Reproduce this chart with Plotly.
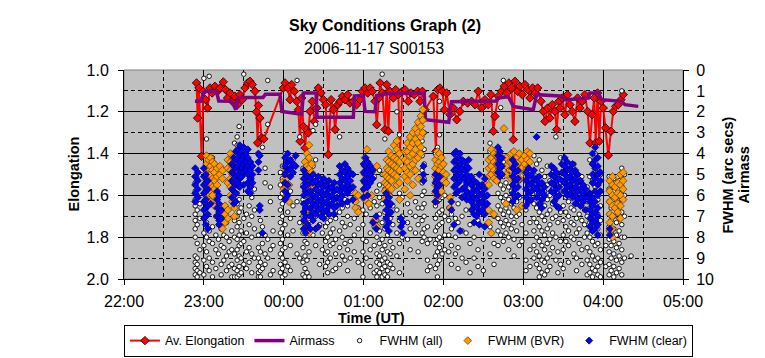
import plotly.graph_objects as go

# ---------------- data (time = minutes after 22:00 UT) ----------------
hour_vals = [0, 60, 120, 180, 240, 300, 360, 420]
hour_labels = ["22:00", "23:00", "00:00", "01:00", "02:00", "03:00", "04:00", "05:00"]

# Av. Elongation (left axis)
elong_t = [54.5, 55.3, 56.3, 58.3, 59.6, 61.3, 62.8, 64.6, 66.3, 68.3, 70.3, 72.1, 74.6, 76.3, 77.8,
           79.6, 81.3, 83.3, 85.4, 87.1, 88.9, 90.9, 92.9, 94.6, 96.4, 98.4, 99.5, 100.4, 101.0, 102.1,
           103.4, 105.1, 119.7, 121.0, 123.0, 124.8, 126.0, 128.0, 129.8, 131.0, 132.3, 133.5, 134.8,
           136.0, 137.3, 138.5, 139.8, 141.5, 143.0, 144.8, 146.0, 148.0, 149.8, 151.5, 153.5, 155.6,
           157.3, 158.6, 160.6, 162.3, 164.1, 166.1, 168.1, 169.8, 172.3, 174.8, 177.3, 179.1, 181.1,
           183.1, 184.9, 186.6, 188.6, 189.9, 191.6, 192.4, 194.1, 196.1, 197.4, 198.6, 199.9, 202.4,
           204.1, 206.1, 207.4, 209.1, 211.1, 213.6, 215.6, 218.1, 220.6, 222.4, 224.2, 226.2, 232.4,
           234.4, 235.7, 237.4, 239.2, 240.7, 242.4, 244.9, 247.4, 250.0, 252.4, 255.0, 258.2, 261.2,
           263.7, 266.2, 268.7, 271.2, 273.7, 275.7, 277.5, 278.7, 281.2, 283.7, 285.7, 287.5, 289.2,
           291.2, 292.5, 293.8, 295.8, 297.5, 299.3, 301.3, 303.3, 305.0, 307.0, 308.8, 310.8, 313.3,
           315.0, 316.3, 318.3, 320.0, 321.8, 323.8, 325.1, 326.8, 327.6, 329.3, 331.3, 333.3, 335.1,
           336.8, 338.8, 340.8, 342.6, 344.3, 346.3, 348.3, 350.1, 351.8, 353.3, 354.4, 355.8, 357.1,
           358.4, 360.1, 361.9, 363.9, 365.9, 367.6, 369.4, 371.4, 373.4, 375.1]
elong_v = [1.062, 1.23, 1.086, 1.413, 1.102, 1.142, 1.182, 1.086, 1.11, 1.078, 1.102, 1.086, 1.057, 1.094, 1.134,
           1.11, 1.15, 1.126, 1.166, 1.118, 1.142, 1.086, 1.062, 1.054, 1.07, 1.102, 1.20, 1.349, 1.17, 1.23,
           1.325, 1.33, 1.086, 1.062, 1.086, 1.142, 1.07, 1.102, 1.15, 1.19, 1.341, 1.134, 1.27,
           1.373, 1.285, 1.301, 1.198, 1.15, 1.246, 1.182, 1.086, 1.11, 1.142, 1.166, 1.405, 1.142,
           1.19, 1.285, 1.166, 1.15, 1.126, 1.142, 1.118, 1.158, 1.15, 1.166, 1.142, 1.102, 1.086,
           1.11, 1.086, 1.102, 1.15, 1.262, 1.134, 1.062, 1.11, 1.285, 1.07, 1.293, 1.102, 1.134,
           1.094, 1.118, 1.397, 1.102, 1.094, 1.15, 1.11, 1.118, 1.102, 1.15, 1.102, 1.19, 1.126,
           1.389, 1.094, 1.086, 1.102, 1.19, 1.11, 1.214, 1.182, 1.238, 1.198, 1.15, 1.158, 1.15,
           1.166, 1.102, 1.182, 1.142, 1.166, 1.118, 1.293, 1.222, 1.126, 1.102, 1.078, 1.11, 1.062,
           1.086, 1.333, 1.054, 1.102, 1.078, 1.118, 1.07, 1.094, 1.134, 1.086, 1.11, 1.086, 1.15,
           1.198, 1.246, 1.182, 1.23, 1.166, 1.198, 1.285, 1.15, 1.182, 1.134, 1.214, 1.118, 1.166,
           1.198, 1.246, 1.134, 1.182, 1.15, 1.118, 1.198, 1.349, 1.214, 1.134, 1.349, 1.11, 1.341,
           1.15, 1.182, 1.277, 1.408, 1.293, 1.198, 1.174, 1.166, 1.142, 1.118]

# Airmass (right axis)
air_t = [53.3, 57.8, 59.8, 61.5, 69.6, 71.2, 81.0, 84.0, 86.2, 104.5, 106.2, 117.2, 118.6, 121.0, 133.5,
         134.8, 144.3, 145.0, 172.3, 173.1, 179.8, 181.1, 188.6, 189.9, 197.0, 225.5, 226.5, 244.0,
         246.0, 279.5, 281.0, 288.8, 292.5, 307.5, 310.0, 327.6, 331.3, 342.6, 348.8, 350.0, 356.4,
         358.9, 373.9, 376.4, 386.4]
air_v = [1.50, 1.50, 1.08, 1.02, 1.04, 1.48, 1.50, 1.90, 1.32, 1.32, 1.16, 1.16, 1.98, 2.00, 2.12,
         1.10, 1.10, 2.26, 2.26, 1.24, 1.22, 1.98, 2.00, 1.22, 1.14, 1.10, 2.38, 2.50,
         1.52, 1.48, 1.34, 1.28, 1.74, 1.90, 1.18, 1.24, 1.42, 1.38, 1.34, 1.10, 1.10,
         1.42, 1.50, 1.66, 1.74]

# FWHM (all): (time, [FWHM values at that time])
fwhm_all = [
    (53.5, [5.1, 5.4, 5.8, 6.2, 6.5, 6.9, 7.2, 7.6, 8.0, 8.9, 9.2, 9.5, 9.8]),
    (55.0, [5.2, 6.0, 6.7, 7.4, 8.3, 9.0, 9.3, 9.6, 9.9]),
    (57.0, [6.4, 7.1, 8.6, 9.7]),
    (60.0, [0.4, 7.8, 8.4, 9.1, 9.8]),
    (62.0, [3.3, 6.6, 7.3, 8.0, 8.7, 9.4]),
    (64.0, [0.3, 7.7, 8.2, 9.0, 9.6]),
    (66.5, [4.2, 7.5, 8.3, 9.2, 9.9]),
    (69.0, [7.0, 7.9, 8.6, 9.5]),
    (71.0, [6.8, 7.4, 8.1, 8.8]),
    (73.0, [7.6, 8.4, 9.3, 9.8]),
    (75.0, [7.9, 8.5, 9.1]),
    (77.0, [7.3, 8.0, 8.9, 9.6]),
    (79.0, [8.2, 8.7, 9.4]),
    (81.0, [7.7, 8.6, 9.3, 9.9]),
    (83.0, [3.5, 4.6, 6.0, 7.2, 8.0, 8.8, 9.5, 9.9]),
    (85.0, [3.2, 3.6, 4.1, 4.7, 5.3, 5.9, 6.4, 7.0, 7.5, 8.1, 8.6, 9.1, 9.6, 9.9]),
    (86.5, [2.7, 3.9, 4.4, 5.0, 5.6, 6.2, 6.8, 7.3, 7.9, 8.4, 8.9, 9.4, 9.8]),
    (88.0, [4.8, 5.5, 6.6, 7.7, 8.3, 9.0, 9.7]),
    (90.0, [0.2, 7.1, 8.2, 9.3]),
    (92.0, [6.9, 7.8, 8.7, 9.5]),
    (94.0, [6.5, 7.4, 8.5, 9.2]),
    (96.0, [5.2, 6.1, 7.0, 8.0, 8.8, 9.7]),
    (98.0, [5.7, 6.7, 7.6, 9.0]),
    (101.0, [7.9, 8.5, 9.0, 9.4, 9.7, 9.9]),
    (102.5, [7.2, 8.7, 9.2, 9.6, 9.9]),
    (104.0, [3.7, 7.5, 8.3, 9.5]),
    (106.0, [4.7, 5.4, 7.9, 8.8, 9.3]),
    (108.0, [0.5, 2.6, 8.1, 9.0]),
    (110.0, [5.6, 6.3, 8.6, 9.8]),
    (112.0, [7.7, 8.4, 9.6]),
    (117.5, [4.9, 5.5, 6.1, 6.7, 7.3, 7.8, 8.3, 8.8, 9.3, 9.7]),
    (119.0, [4.6, 5.2, 5.9, 6.4, 7.0, 7.6, 8.1, 8.6, 9.0, 9.5, 9.9]),
    (121.0, [4.0, 5.6, 6.2, 7.4, 8.5, 9.2, 9.8]),
    (123.0, [4.4, 6.8, 7.9, 9.4]),
    (125.0, [5.8, 7.1, 8.4, 9.6]),
    (127.0, [4.3, 6.5, 7.7]),
    (130.0, [0.5, 6.3, 8.8]),
    (132.0, [3.2, 7.3, 9.0]),
    (134.5, [4.7, 5.5, 6.2, 7.0, 7.8, 8.5, 9.2, 9.8]),
    (136.0, [4.9, 5.8, 6.6, 7.4, 8.2, 8.9, 9.5, 9.9]),
    (137.5, [5.2, 6.0, 6.8, 7.6, 8.3, 9.1, 9.7]),
    (139.0, [5.4, 6.4, 7.2, 8.7, 9.9]),
    (142.0, [2.9, 4.6, 6.1, 7.9]),
    (144.0, [2.6, 4.3, 5.7, 7.0, 8.4]),
    (147.0, [6.3, 7.4, 9.3]),
    (149.0, [7.8, 8.6]),
    (151.5, [5.5, 6.2, 6.9, 7.5, 8.2, 8.8, 9.4]),
    (153.0, [5.3, 6.0, 6.7, 7.3, 8.0, 8.7, 9.2, 9.7]),
    (155.0, [5.8, 6.5, 7.2, 7.8, 8.4, 9.0]),
    (157.0, [6.1, 6.9, 7.6, 8.3, 9.6]),
    (159.0, [6.4, 7.1, 8.1, 8.8, 9.5]),
    (162.0, [3.2, 6.0, 6.8, 7.7, 8.5, 9.3]),
    (164.0, [6.6, 7.3, 8.0, 8.9]),
    (166.0, [6.2, 7.5, 8.3, 9.1]),
    (168.0, [6.5, 7.0, 8.6, 9.6]),
    (170.0, [7.4, 8.2, 9.0]),
    (173.0, [6.3, 7.1, 7.9, 8.7]),
    (176.0, [6.6, 7.6, 9.2]),
    (179.5, [6.7, 7.4, 8.1, 8.7, 9.3, 9.9]),
    (182.0, [5.6, 6.9, 8.2, 9.0]),
    (185.0, [5.3, 6.6, 7.8, 8.6, 9.4]),
    (188.0, [5.1, 6.3, 7.5, 8.4, 9.7]),
    (190.0, [4.6, 5.8, 6.5, 7.2, 8.0, 8.8, 9.2, 9.6, 9.9]),
    (192.0, [4.8, 5.5, 6.1, 6.9, 7.7, 8.3, 8.9, 9.3, 9.7]),
    (194.0, [0.2, 5.0, 6.4, 7.3, 8.1, 8.6, 9.1, 9.5, 9.9]),
    (196.0, [3.3, 5.7, 6.8, 7.6, 8.4, 9.0, 9.4, 9.8]),
    (198.0, [4.9, 6.2, 7.0, 7.9, 8.7, 9.2, 9.6, 9.9]),
    (200.0, [6.0, 7.1, 8.2, 8.8, 9.3]),
    (202.0, [4.7, 6.5, 7.4, 8.5, 9.5]),
    (205.0, [2.0, 5.5, 6.7, 7.8, 8.9]),
    (207.0, [3.1, 5.9, 7.2, 8.3, 9.7]),
    (209.0, [6.1, 7.0, 8.0]),
    (213.0, [6.4, 7.3, 8.1]),
    (215.0, [6.8, 7.6, 8.6]),
    (219.0, [6.3, 7.0, 7.8]),
    (221.0, [6.6, 7.4, 8.7]),
    (224.0, [2.2, 3.4, 4.1, 4.8, 5.4, 6.0, 6.6, 7.2, 7.8, 8.2]),
    (225.5, [3.0, 3.8, 4.5, 5.2, 5.8, 6.4, 7.0, 7.6, 8.0]),
    (228.0, [7.5, 8.3, 9.1, 9.6]),
    (230.0, [8.1, 9.4]),
    (234.0, [4.0, 4.7, 5.3, 5.9, 6.5, 7.1, 7.7, 8.3, 8.9, 9.5]),
    (235.5, [3.7, 4.4, 5.1, 5.7, 6.3, 6.9, 7.5, 8.1, 8.7, 9.3, 9.9]),
    (237.0, [1.5, 3.1, 4.2, 4.9, 5.6, 6.2, 6.8, 7.4, 8.0, 8.5, 9.1]),
    (239.0, [4.6, 5.4, 6.1, 6.7, 7.3, 8.2, 8.8]),
    (241.0, [5.2, 6.0, 7.0, 7.9, 8.6]),
    (244.0, [6.6, 7.2, 7.9, 8.7]),
    (246.0, [6.9, 7.6, 8.4, 9.3]),
    (249.0, [7.1, 8.0, 8.8]),
    (251.0, [6.4, 7.3, 8.5, 9.5]),
    (254.0, [7.0, 7.7, 9.0]),
    (257.0, [6.7, 7.8, 9.2]),
    (260.0, [7.4, 8.3, 9.7]),
    (263.0, [8.0, 9.0]),
    (266.0, [7.2, 8.6, 9.4]),
    (270.0, [6.9, 8.1, 9.6]),
    (275.0, [3.5, 3.9, 4.2, 7.5, 8.8]),
    (278.0, [7.0, 8.3, 9.3]),
    (281.0, [4.0, 4.6, 5.3, 5.9, 6.5, 7.1, 7.7, 8.4]),
    (283.0, [1.8, 4.2, 4.9, 5.5, 6.1, 6.7, 7.3, 7.9]),
    (285.0, [0.5, 4.4, 5.1, 5.7, 6.3, 6.9, 7.5, 8.2]),
    (287.0, [4.6, 5.4, 6.0, 6.6, 7.2, 7.8]),
    (289.0, [4.8, 5.6, 6.2, 6.8, 7.4, 8.0, 8.6]),
    (291.0, [5.0, 5.8, 6.4, 7.0, 7.6]),
    (293.0, [5.2, 6.0, 6.6, 7.3, 8.1, 8.9]),
    (295.0, [5.5, 6.3, 7.0, 7.7]),
    (297.0, [5.3, 6.1, 6.9, 8.4]),
    (299.0, [6.5, 7.4, 8.2]),
    (302.0, [6.7, 7.8, 9.1, 9.6]),
    (305.0, [6.2, 7.3, 8.6, 9.4]),
    (308.0, [4.1, 5.0, 5.7, 6.4, 7.1, 7.7, 8.4, 9.0]),
    (310.0, [4.5, 5.2, 5.9, 6.6, 7.3, 8.0, 8.7, 9.3]),
    (312.0, [4.3, 5.4, 6.1, 6.8, 7.5, 8.2, 8.9, 9.5, 9.9]),
    (314.0, [4.8, 5.6, 6.3, 7.0, 7.7, 8.4, 9.1, 9.7]),
    (316.0, [5.1, 5.8, 6.5, 7.2, 7.9, 8.6, 9.2, 9.8]),
    (318.0, [4.6, 5.5, 6.2, 6.9, 7.6, 8.3, 9.0, 9.6]),
    (320.0, [5.3, 6.0, 6.7, 7.4, 8.1, 8.8, 9.4]),
    (322.0, [4.9, 5.7, 6.4, 7.1, 7.8, 8.5]),
    (324.5, [3.2, 5.0, 6.2, 7.0, 8.0, 9.1]),
    (326.0, [5.9, 6.6, 7.3, 8.7, 9.7]),
    (328.0, [4.2, 5.4, 6.8, 8.2, 9.3]),
    (330.0, [4.4, 5.1, 5.8, 6.5, 7.2, 7.9, 8.6, 9.5]),
    (332.0, [4.7, 5.4, 6.1, 6.8, 7.5, 8.2]),
    (334.0, [4.9, 5.6, 6.3, 7.0, 7.7, 8.4, 9.2]),
    (336.0, [5.2, 5.9, 6.6, 7.3, 8.0]),
    (338.0, [4.5, 5.3, 6.0, 6.7, 7.4, 8.1, 8.8]),
    (340.0, [5.0, 5.7, 6.4, 7.1, 7.8, 9.0, 9.6]),
    (342.0, [5.5, 6.2, 6.9, 7.6, 8.3]),
    (344.0, [5.1, 5.8, 6.5, 7.2, 8.6, 9.3]),
    (346.0, [6.0, 6.7, 7.4, 8.0]),
    (348.0, [5.6, 6.3, 7.0, 7.8, 8.5, 9.1, 9.8]),
    (350.0, [4.3, 5.1, 5.9, 6.6, 7.3, 8.0, 8.7, 9.3, 9.7]),
    (352.0, [4.5, 5.3, 6.1, 6.8, 7.5, 8.2, 8.9, 9.5, 9.9]),
    (354.0, [4.0, 4.8, 5.6, 6.3, 7.0, 7.7, 8.4, 9.1, 9.6]),
    (356.0, [4.7, 5.5, 6.2, 6.9, 7.6, 8.3, 9.0, 9.4, 9.8]),
    (358.0, [5.0, 5.8, 6.5, 7.2, 7.9, 8.6, 9.2, 9.9]),
    (362.0, [8.4, 9.4]),
    (364.5, [5.1, 5.7, 6.3, 6.9, 7.5, 8.1, 8.7, 9.3, 9.8]),
    (366.0, [5.4, 6.0, 6.6, 7.2, 7.8, 8.4, 9.0, 9.6]),
    (368.0, [5.2, 5.8, 6.4, 7.0, 7.6, 8.2, 8.8, 9.4, 9.9]),
    (370.0, [5.5, 6.1, 6.7, 7.3, 7.9, 8.5, 9.1, 9.7]),
    (372.0, [5.3, 5.9, 6.5, 7.1, 7.7, 8.3, 8.9, 9.5]),
    (374.0, [1.0, 4.7, 5.6, 6.2, 6.8, 7.4, 8.0, 8.6, 9.2, 9.8]),
    (376.0, [5.0, 6.0, 7.0, 8.0, 9.0]),
    (381.0, [8.9]),
]

# FWHM (BVR)
fwhm_bvr = [
    (62.0, [4.1, 4.5, 4.9, 5.3, 5.7, 6.1]),
    (63.5, [4.3, 4.7, 5.1, 5.5, 5.9]),
    (65.0, [4.2, 4.6, 5.0, 5.4, 5.8, 6.3]),
    (66.5, [4.4, 4.8, 5.2, 5.6, 6.0]),
    (68.0, [4.5, 4.9, 5.3, 5.7, 6.5]),
    (70.0, [4.7, 5.1, 5.5]),
    (72.0, [4.6, 5.0, 6.6, 7.0, 7.4]),
    (74.0, [4.8, 5.2, 6.8, 7.2, 7.6]),
    (76.0, [6.5, 6.9, 7.3]),
    (78.0, [4.3, 4.7, 5.4, 6.7, 7.1]),
    (80.0, [4.0, 4.4, 4.8, 5.2, 5.6, 6.0]),
    (81.5, [4.2, 4.6, 5.0, 6.3]),
    (83.0, [6.6, 7.0]),
    (120.0, [5.3, 5.7]),
    (122.0, [4.8, 5.2, 5.6, 6.0]),
    (124.0, [5.0, 5.5, 6.3]),
    (136.0, [4.4, 4.8, 5.2, 5.6, 6.8, 7.2, 7.6]),
    (137.5, [4.0, 4.6, 5.0, 5.4, 5.8, 7.0, 7.4]),
    (139.0, [3.6, 4.2, 4.7, 5.1, 5.5, 6.2, 7.8]),
    (141.0, [4.5, 4.9, 5.3, 6.0, 6.6]),
    (143.0, [5.6, 6.4]),
    (174.0, [5.9, 6.3, 6.6]),
    (176.0, [6.0, 6.8]),
    (181.0, [4.2, 4.6, 5.0, 5.4, 5.8, 6.2]),
    (182.5, [3.8, 4.4, 4.8, 5.2, 5.6]),
    (184.0, [4.5, 5.3, 6.4]),
    (186.0, [4.9, 6.0]),
    (188.0, [7.2]),
    (190.0, [4.6, 7.5]),
    (196.0, [5.0, 5.4, 5.8, 6.2]),
    (197.5, [4.3, 4.7, 5.1, 5.5, 5.9]),
    (199.0, [3.9, 4.4, 4.8, 5.2, 5.6, 6.0, 6.4]),
    (201.0, [4.1, 4.5, 4.9, 5.3, 5.7]),
    (203.0, [3.6, 4.2, 4.6, 5.0]),
    (205.0, [3.4, 3.8, 4.3, 4.7, 5.1, 5.5]),
    (207.0, [4.0, 4.4, 4.8, 5.4, 6.2]),
    (211.0, [3.9, 4.3, 4.7, 5.1, 5.7]),
    (213.0, [3.5, 3.9, 4.4, 4.9, 5.3]),
    (215.0, [3.2, 3.7, 4.1, 4.6, 5.0, 6.0]),
    (217.0, [3.0, 3.5, 4.0, 4.5, 5.5]),
    (219.0, [2.8, 3.3, 3.8, 4.3, 4.8]),
    (221.0, [2.5, 3.0, 3.5, 4.2, 5.2]),
    (223.0, [2.2, 2.7, 3.2, 3.7, 4.0]),
    (224.5, [1.9, 2.4, 3.0]),
    (234.0, [4.3, 4.7, 5.1, 5.5, 5.9, 6.3]),
    (235.5, [3.9, 4.1, 4.5, 4.9, 5.3, 5.7, 6.1]),
    (237.0, [4.0, 4.4, 4.8, 5.2, 5.6, 6.0]),
    (238.5, [4.2, 4.6, 5.0, 5.4, 5.8]),
    (240.0, [4.5, 4.9, 5.3]),
    (242.0, [5.0, 5.4]),
    (245.0, [6.1, 6.6]),
    (272.0, [5.5, 6.4]),
    (274.0, [4.3, 4.7, 5.1, 5.5, 6.7, 7.3]),
    (276.0, [3.8, 4.2, 4.6, 5.0, 7.8]),
    (278.0, [4.0, 4.4, 4.8, 5.2, 6.9]),
    (280.0, [4.1, 4.5, 4.9, 5.3]),
    (282.0, [3.9, 4.3, 4.7]),
    (285.5, [2.8]),
    (287.0, [4.2, 4.6, 5.0, 6.4]),
    (291.0, [4.0, 4.4, 4.8, 5.2]),
    (293.0, [3.9, 4.3, 4.7, 5.1]),
    (295.0, [4.2, 4.6, 5.0, 6.7]),
    (297.0, [4.0, 4.4, 4.8, 5.2]),
    (299.0, [4.3, 4.7, 6.5]),
    (301.0, [4.1, 4.5, 4.9]),
    (303.0, [3.9, 4.3, 4.7, 5.1]),
    (305.0, [4.0, 4.4]),
    (365.0, [5.3, 5.8, 6.3, 6.9, 7.3, 7.7]),
    (367.0, [5.1, 5.5, 6.0, 6.5, 7.0, 7.6, 8.0]),
    (369.0, [5.6, 6.1, 6.6]),
    (371.0, [5.4, 5.9, 6.4, 6.8]),
    (373.0, [5.0, 5.5, 6.0, 6.5, 7.1]),
    (375.0, [4.9, 5.3, 5.7, 6.2]),
]

# FWHM (clear)
fwhm_clear = [
    (53.5, [4.7, 5.1, 5.5, 5.9, 6.3]),
    (55.5, [4.9, 5.3, 5.7, 6.1]),
    (60.0, [4.7, 5.1, 5.5, 5.9, 6.3, 6.7, 7.1]),
    (61.5, [5.0, 5.4, 5.8, 6.2, 6.6, 7.0, 7.4]),
    (63.0, [5.3, 5.7, 6.5, 6.9, 7.6]),
    (65.0, [6.4]),
    (70.0, [5.8, 6.2, 6.6, 7.0]),
    (71.5, [6.0, 6.4, 6.8, 7.2, 7.4]),
    (73.0, [6.7, 7.1]),
    (81.0, [4.5, 4.9, 5.3, 5.7, 6.1]),
    (82.5, [4.2, 4.6, 5.0, 5.4, 5.8, 6.4]),
    (84.0, [3.9, 4.3, 4.7, 5.1, 5.5, 5.9, 6.3]),
    (85.5, [3.8, 4.2, 4.6, 5.0, 5.4]),
    (87.0, [3.6, 4.0, 4.4, 4.8, 5.2, 5.6]),
    (88.5, [3.9, 4.3, 4.7, 5.1]),
    (90.0, [3.7, 4.1, 4.5, 4.9, 5.5]),
    (91.5, [4.0, 4.4, 4.8]),
    (93.0, [3.8, 4.2, 4.6, 5.0, 5.4, 5.8]),
    (95.0, [4.4, 4.8, 5.2, 5.6, 5.9]),
    (96.5, [4.6, 5.0, 5.4]),
    (101.0, [4.0, 4.4, 4.8]),
    (102.0, [4.1, 6.5, 6.7]),
    (104.0, [7.8]),
    (121.0, [4.2, 4.6, 5.0, 5.4, 5.8, 6.2]),
    (123.0, [4.0, 4.4, 4.8, 5.5, 6.0]),
    (125.0, [4.3, 4.7, 5.1]),
    (127.0, [4.5, 4.9]),
    (129.0, [4.1, 4.6]),
    (135.0, [4.8, 5.2, 5.6, 6.0, 6.4, 6.8, 7.2, 7.6]),
    (136.5, [5.0, 5.4, 5.8, 6.6, 7.0, 7.8]),
    (138.0, [5.1, 5.5, 5.9, 6.3, 7.4]),
    (140.0, [5.2, 5.8, 6.2, 6.6, 7.0, 7.6]),
    (142.0, [5.0, 5.4, 6.0, 6.4, 6.8, 7.2]),
    (144.0, [5.3, 5.7, 6.1, 6.5, 6.9, 7.6]),
    (146.0, [5.1, 5.5, 5.9, 6.3, 6.7, 7.5]),
    (148.0, [5.4, 5.8, 6.2, 6.6, 7.0]),
    (150.0, [5.2, 5.6, 6.0, 6.4, 6.8, 7.1]),
    (152.0, [5.5, 5.9, 6.3, 6.7]),
    (154.0, [5.3, 5.7, 6.1, 6.5, 6.9]),
    (156.0, [5.6, 6.0, 6.4]),
    (158.0, [5.4, 5.8, 6.2, 6.6, 6.9]),
    (160.0, [5.7, 6.1, 6.5]),
    (162.0, [4.6, 5.0, 5.4, 5.8, 6.2]),
    (164.0, [4.8, 5.2, 5.6, 6.0, 6.4]),
    (166.0, [4.5, 4.9, 5.3, 5.7]),
    (168.0, [4.7, 5.1, 5.5, 5.9, 6.3]),
    (170.0, [4.9, 5.3, 5.7]),
    (172.0, [5.0, 5.6, 6.2]),
    (180.0, [4.5, 4.9, 5.3, 5.7, 6.1]),
    (181.5, [4.2, 4.6, 5.0, 5.4]),
    (183.0, [4.4, 4.8, 5.2, 5.6, 6.0]),
    (185.0, [4.6, 5.0, 5.4]),
    (187.0, [4.8, 5.2, 7.3]),
    (189.5, [7.0, 7.6]),
    (197.0, [5.9, 6.3, 6.7, 7.1, 7.5]),
    (199.0, [6.1, 6.5, 6.9, 7.3, 7.7]),
    (200.5, [6.4, 6.8]),
    (208.0, [7.1, 7.5]),
    (209.5, [7.3, 7.8]),
    (225.0, [4.6, 5.0, 5.3]),
    (234.0, [5.0, 5.4, 5.8, 6.3]),
    (235.5, [5.2, 5.6, 6.0]),
    (237.0, [5.1, 5.5]),
    (246.0, [6.3, 6.7]),
    (248.0, [4.0, 4.4, 4.8, 5.2, 5.6, 7.4]),
    (249.5, [3.9, 4.3, 4.7, 5.1, 5.5, 5.9]),
    (251.0, [4.2, 4.6, 5.0, 5.4, 5.8]),
    (252.5, [4.0, 4.5, 4.9, 5.3, 7.7]),
    (254.0, [4.3, 4.7, 5.1, 5.7, 6.1]),
    (256.0, [4.4, 4.8, 5.2, 5.6, 6.0]),
    (257.5, [4.6, 5.0, 5.4, 5.8, 6.2]),
    (259.0, [4.3, 4.7, 5.3, 6.1]),
    (261.0, [5.1, 5.5, 5.9, 6.3, 6.7]),
    (263.0, [5.3, 5.7, 6.1, 6.5, 6.9, 7.3]),
    (265.0, [5.4, 5.8, 6.2, 6.6, 7.0]),
    (267.0, [5.0, 5.6, 6.0, 6.4, 6.8, 7.4]),
    (269.0, [5.5, 5.9, 6.3, 6.7]),
    (271.0, [5.2, 5.7, 6.1, 6.5, 6.9, 7.5]),
    (273.0, [6.0, 6.4]),
    (281.0, [3.7, 4.1, 4.5, 4.9]),
    (282.5, [3.9, 4.3, 4.7, 5.1]),
    (284.0, [4.2, 4.6, 5.0]),
    (292.0, [4.3, 4.7, 5.1, 5.5, 5.9, 6.3]),
    (294.0, [4.5, 4.9, 5.3, 5.7, 6.1]),
    (296.0, [4.8, 5.2, 5.6, 6.0]),
    (302.0, [4.9, 5.3, 5.7, 6.1, 6.5]),
    (304.0, [4.7, 5.1, 5.5, 5.9, 6.3]),
    (306.0, [5.0, 5.4, 5.8, 6.2]),
    (308.0, [4.8, 5.2, 5.6]),
    (310.0, [3.2, 5.3, 5.7, 6.1]),
    (312.0, [5.1, 5.5, 5.9, 6.4]),
    (314.0, [5.4, 5.8, 6.2, 6.6]),
    (316.0, [5.6, 6.0]),
    (321.0, [4.6, 5.0, 5.4, 5.8]),
    (323.0, [4.7, 5.1, 5.5, 5.9, 6.3]),
    (325.0, [4.9, 5.3, 5.7, 6.1, 6.5]),
    (327.0, [5.2, 5.6, 6.0, 6.6]),
    (329.0, [4.5, 4.9, 5.3]),
    (331.0, [4.2, 4.6, 5.0, 5.4, 5.8]),
    (333.0, [4.4, 4.8, 5.2, 5.6, 6.0]),
    (335.0, [4.7, 5.1, 5.5, 5.9]),
    (337.0, [4.5, 4.9, 5.3, 5.7, 6.1]),
    (339.0, [4.8, 5.2, 5.6, 6.0, 6.4]),
    (341.0, [5.0, 5.4, 5.8, 6.2]),
    (343.0, [5.3, 5.7, 6.1, 6.5]),
    (345.0, [5.5, 5.9, 6.3]),
    (347.0, [5.7, 6.1, 6.7]),
    (350.0, [5.9, 6.3, 6.7, 7.1, 7.5]),
    (352.0, [4.0, 4.5, 5.0, 5.4, 6.1, 6.5, 6.9, 7.3, 7.7]),
    (354.0, [3.7, 4.3, 4.7, 5.2, 5.8, 6.3, 6.8, 7.2, 7.6]),
    (356.0, [4.2, 4.6, 5.0, 5.5, 6.0, 6.6, 7.0, 7.4, 7.9]),
    (358.0, [4.9, 5.3, 5.8]),
    (365.0, [7.6, 7.9]),
]


def flatten(cols):
    xs, ys = [], []
    for t, vals in cols:
        for v in vals:
            xs.append(t)
            ys.append(v)
    return xs, ys


all_x, all_y = flatten(fwhm_all)
bvr_x, bvr_y = flatten(fwhm_bvr)
clr_x, clr_y = flatten(fwhm_clear)

FONT = "Liberation Sans, Arial, sans-serif"

fig = go.Figure()
fig.add_trace(go.Scatter(
    x=elong_t, y=elong_v, name="Av. Elongation", mode="lines+markers",
    line=dict(color="#FF0000", width=2),
    marker=dict(symbol="diamond", size=6.5, color="#FF0000", line=dict(color="#000000", width=0.8)),
    yaxis="y"))
fig.add_trace(go.Scatter(
    x=air_t, y=air_v, name="Airmass", mode="lines",
    line=dict(color="#800080", width=3.5), yaxis="y2"))
fig.add_trace(go.Scatter(
    x=all_x, y=all_y, name="FWHM (all)", mode="markers",
    marker=dict(symbol="circle", size=4.5, color="#FFFFFF", line=dict(color="#000000", width=0.9)),
    yaxis="y2"))
fig.add_trace(go.Scatter(
    x=bvr_x, y=bvr_y, name="FWHM (BVR)", mode="markers",
    marker=dict(symbol="diamond", size=6, color="#FF9900", line=dict(color="#5a3600", width=0.7)),
    yaxis="y2"))
fig.add_trace(go.Scatter(
    x=clr_x, y=clr_y, name="FWHM (clear)", mode="markers",
    marker=dict(symbol="diamond", size=5.5, color="#0000FF", line=dict(color="#000050", width=0.7)),
    yaxis="y2"))

dash = "4px,3px"
# page body has an 8px margin, so the figure is 8px smaller than the window
fig.update_layout(
    width=757, height=350, autosize=False,
    margin=dict(l=116, r=82, t=62, b=79, pad=0, autoexpand=False),
    paper_bgcolor="#FFFFFF", plot_bgcolor="#C0C0C0",
    font=dict(family=FONT, size=16, color="#000000"),
    showlegend=True,
    xaxis=dict(
        range=[0, 420], tickmode="array", tickvals=hour_vals, ticktext=hour_labels,
        showline=True, linecolor="#000000", linewidth=1,
        ticks="outside", ticklen=5, tickcolor="#000000", ticklabelstandoff=3,
        showgrid=True, gridcolor="#000000", gridwidth=1, zeroline=False,
        minor=dict(tickmode="linear", tick0=0, dtick=30, showgrid=True,
                   gridcolor="#000000", gridwidth=1, griddash=dash, ticks=""),
        tickfont=dict(size=16, family=FONT),
    ),
    yaxis=dict(
        range=[2.0, 1.0], tickmode="linear", tick0=1.0, dtick=0.2, tickformat=".1f",
        showline=True, linecolor="#000000", linewidth=1,
        ticks="outside", ticklen=5, tickcolor="#000000", ticklabelstandoff=6,
        showgrid=True, gridcolor="#000000", gridwidth=1, zeroline=False,
        minor=dict(tickmode="linear", tick0=1.0, dtick=0.1, showgrid=True,
                   gridcolor="#000000", gridwidth=1, griddash=dash, ticks=""),
        tickfont=dict(size=16, family=FONT),
    ),
    yaxis2=dict(
        range=[10, 0], overlaying="y", side="right", anchor="x",
        tickmode="linear", tick0=0, dtick=1,
        showline=True, linecolor="#000000", linewidth=1,
        ticks="outside", ticklen=5, tickcolor="#000000", ticklabelstandoff=4,
        showgrid=False, zeroline=False,
        tickfont=dict(size=16, family=FONT),
    ),
    legend=dict(
        orientation="h", xref="paper", yref="paper",
        x=-0.0001, xanchor="left", y=-0.22, yanchor="top",
        bordercolor="#000000", borderwidth=1, bgcolor="#FFFFFF",
        font=dict(size=12.5, family=FONT), itemwidth=30, tracegroupgap=0,
    ),
    annotations=[
        dict(text="<b>Sky Conditions Graph (2)</b>", xref="paper", yref="paper",
             x=0.467, y=1.213, xanchor="center", yanchor="middle", showarrow=False,
             font=dict(size=16, family=FONT)),
        dict(text="2006-11-17 S00153", xref="paper", yref="paper",
             x=0.4467, y=1.105, xanchor="center", yanchor="middle", showarrow=False,
             font=dict(size=16, family=FONT)),
        dict(text="<b>Elongation</b>", xref="paper", yref="paper",
             x=-0.0912, y=0.5, xanchor="center", yanchor="middle", textangle=-90,
             showarrow=False, font=dict(size=14.5, family=FONT)),
        dict(text="<b>FWHM (arc secs)</b>", xref="paper", yref="paper",
             x=1.0805, y=0.5, xanchor="center", yanchor="middle", textangle=-90,
             showarrow=False, font=dict(size=14.5, family=FONT)),
        dict(text="<b>Airmass</b>", xref="paper", yref="paper",
             x=1.109, y=0.5, xanchor="center", yanchor="middle", textangle=-90,
             showarrow=False, font=dict(size=14.5, family=FONT)),
        dict(text="<b>Time (UT)</b>", xref="paper", yref="paper",
             x=0.4419, y=-0.185, xanchor="center", yanchor="middle",
             showarrow=False, font=dict(size=14.5, family=FONT)),
    ],
    shapes=[
        dict(type="rect", xref="paper", yref="paper", x0=0, x1=1, y0=0, y1=1,
             line=dict(color="#808080", width=1), layer="below"),
    ],
)

fig.write_html("out.html")
